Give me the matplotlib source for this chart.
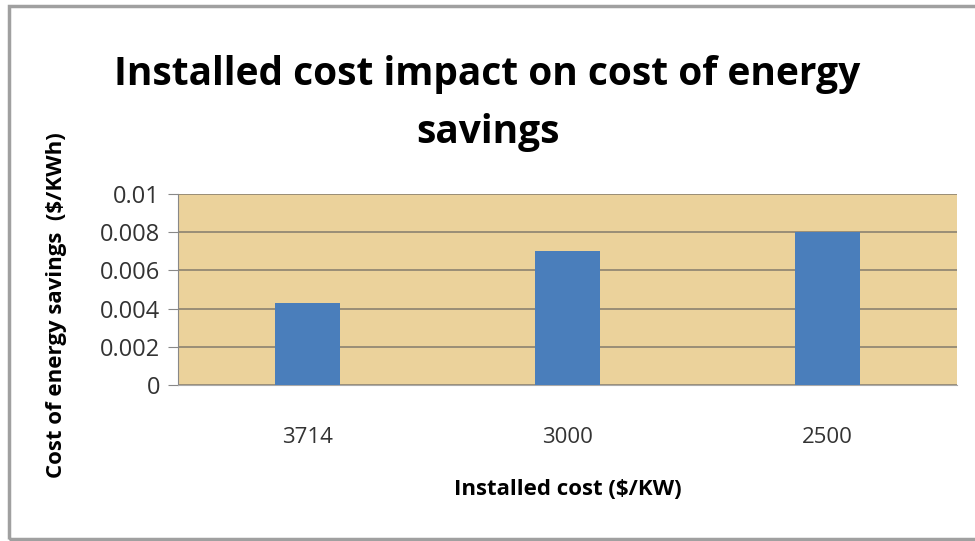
import matplotlib
matplotlib.use('Agg')
import matplotlib.pyplot as plt
from matplotlib.patches import Rectangle

# data
categories = ['3714', '3000', '2500']
values = [0.0043, 0.007, 0.008]

bar_color = '#4A7EBB'
paper = '#EBD29B'
grid_col = '#8C8270'

plt.rcParams['font.family'] = ['Open Sans', 'DejaVu Sans']

fig = plt.figure(figsize=(9.75, 5.41), dpi=100)
ax = fig.add_axes([0.1826, 0.2884, 0.7989, 0.353])

x = range(len(categories))
ax.bar(x, values, width=0.25, color=bar_color, zorder=3)

ax.set_xlim(-0.5, len(categories) - 0.5)
ax.set_ylim(0, 0.01)
ax.set_yticks([0, 0.002, 0.004, 0.006, 0.008, 0.01])
ax.set_yticklabels(['0', '0.002', '0.004', '0.006', '0.008', '0.01'])
ax.set_xticks(list(x))
ax.set_xticklabels(categories)

ax.set_facecolor(paper)
ax.yaxis.grid(True, color=grid_col, linewidth=1.2, zorder=1)
ax.set_axisbelow(True)

for s in ['top', 'right']:
    ax.spines[s].set_visible(False)
ax.spines['left'].set_color('#888888')
ax.spines['bottom'].set_color('#AAAAAA')
ax.tick_params(axis='y', length=7, color='#888888', labelsize=17, labelcolor='#333333', pad=6)
ax.tick_params(axis='x', length=0, labelsize=16, labelcolor='#333333', pad=30)

ax.set_xlabel('Installed cost ($/KW)', fontsize=16, fontweight='bold')
ax.xaxis.set_label_coords(0.5, -0.49)
ax.set_ylabel('Cost of energy savings  ($/KWh)', fontsize=16, fontweight='bold')
ax.yaxis.set_label_coords(-0.143, 0.42)

fig.text(0.5, 0.862, 'Installed cost impact on cost of energy', ha='center', va='center',
         fontsize=28, fontweight='bold')
fig.text(0.5, 0.755, 'savings', ha='center', va='center', fontsize=28, fontweight='bold')

# outer frame
fig.patches.append(Rectangle((0.009, 0.004), 1.0, 0.985, transform=fig.transFigure,
                             fill=False, edgecolor='#A0A0A0', linewidth=2.5))

plt.savefig('out.png', dpi=100)
